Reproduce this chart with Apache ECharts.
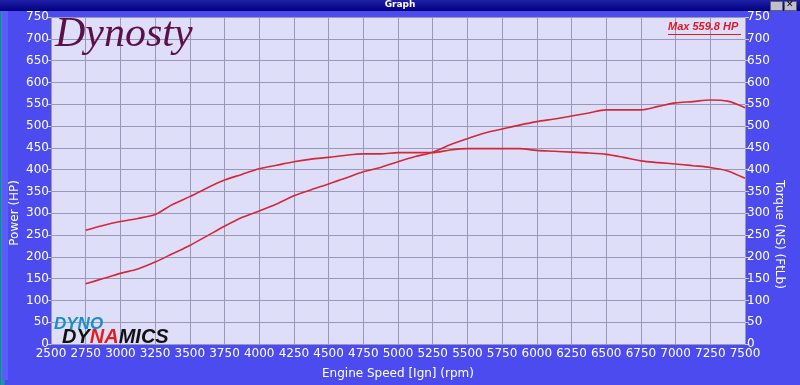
<!DOCTYPE html>
<html><head><meta charset="utf-8">
<script src="https://cdn.jsdelivr.net/npm/echarts@6/dist/echarts.min.js"></script>
<style>html,body{margin:0;padding:0;background:#1a9a9a;}#c{width:800px;height:385px;}</style>
</head><body><div id="c"></div>
<script>
const rpm = [2750,2875,3000,3125,3250,3375,3500,3625,3750,3875,4000,4125,4250,4375,4500,4625,4750,4875,5000,5125,5250,5375,5500,5625,5750,5875,6000,6125,6250,6375,6500,6625,6750,6875,7000,7125,7250,7375,7500];
const torque = [261,272,281,288,297,320,338,358,376,389,402,410,418,424,428,433,436,436,439,439,439,445,448,448,448,448,444,442,440,438,435,428,420,416,413,409,405,397,380];
const power = [138,150,162,172,188,207,226,248,270,290,305,321,340,354,367,381,395,405,418,430,440,457,471,484,493,502,510,516,523,530,537,537,537,545,553,556,559.8,557,542];
const xTicks = {min:2500, max:7500, interval:250};
const yTicks = {min:0, max:750, interval:50};
const titleText = 'Graph';
const maxLabel = 'Max 559.8 HP';
const xName = 'Engine Speed [Ign] (rpm)';
const yLeftName = 'Power (HP)';
const yRightName = 'Torque (NS) (FtLb)';

const chart = echarts.init(document.getElementById('c'), null, {renderer:'canvas'});
const lbl = {color:'#ffffff', fontFamily:'DejaVu Sans', fontSize:12, formatter:(v)=>String(v)};
const yAxisBase = (pos) => ({
  type:'value', position:pos, min:yTicks.min, max:yTicks.max, interval:yTicks.interval,
  axisLine:{show:false},
  axisTick:{show:true, length:4, lineStyle:{color:'#c8c8e8'}},
  axisLabel:Object.assign({margin:2}, lbl),
  splitLine:{show:pos==='left', lineStyle:{color:'#9a98b8', width:1}}
});
const pairs = (ys) => rpm.map((r,i)=>[r, ys[i]]);
chart.setOption({
  backgroundColor:'#4b4bf0',
  animation:false,
  grid:{left:51, right:55, top:17, bottom:37, show:true, backgroundColor:'#dedef8', borderWidth:0},
  xAxis:{type:'value', min:xTicks.min, max:xTicks.max, interval:xTicks.interval,
    axisLine:{show:false}, axisTick:{show:false},
    axisLabel:Object.assign({margin:4}, lbl),
    splitLine:{show:true, lineStyle:{color:'#9a98b8', width:1}},
    name:xName, nameLocation:'middle', nameGap:24,
    nameTextStyle:{color:'#ffffff', fontFamily:'DejaVu Sans', fontSize:12}},
  yAxis:[yAxisBase('left'), yAxisBase('right')],
  series:[
    {type:'line', data:pairs(torque), yAxisIndex:1, smooth:0.3, symbol:'none', lineStyle:{color:'#d42838', width:1.6}},
    {type:'line', data:pairs(power), yAxisIndex:0, smooth:0.3, symbol:'none', lineStyle:{color:'#d42838', width:1.6}}
  ],
  graphic:[
    {type:'rect', left:0, top:0, shape:{width:800, height:385}, style:{fill:'none', stroke:'#1a9a9a', lineWidth:4}, z:0, silent:true},
    {type:'rect', left:2, top:2, shape:{width:6, height:378}, style:{fill:'#5c5cfa'}, z:0},
    {type:'rect', left:0, top:0, shape:{width:800, height:11}, style:{fill:new echarts.graphic.LinearGradient(0,0,0,1,[{offset:0,color:'#2020a8'},{offset:1,color:'#000080'}])}, z:10},
    {type:'text', left:'center', top:0, style:{text:titleText, fill:'#ffffff', font:'bold 9px "DejaVu Sans"'}, z:11},
    {type:'rect', left:770, top:1, shape:{width:12, height:9}, style:{fill:'#c0c0c8', stroke:'#606070'}, z:11},
    {type:'rect', left:784, top:1, shape:{width:12, height:9}, style:{fill:'#c0c0c8', stroke:'#606070'}, z:11},
    {type:'text', left:786, top:0, style:{text:'✕', fill:'#000000', font:'bold 9px "DejaVu Sans"'}, z:12},
    {type:'text', left:55, top:14, style:{text:'Dynosty', fill:'#5a1048', font:'italic 42px "Liberation Serif"'}, z:5},
    {type:'text', left:668, top:21, style:{text:maxLabel, fill:'#e01828', font:'italic bold 11px "Liberation Sans"'}, z:5},
    {type:'rect', left:668, top:34, shape:{width:73, height:1}, style:{fill:'#e01828'}, z:5},
    {type:'text', left:54, top:316, style:{text:'DYNO', fill:'#1a8ec8', font:'italic bold 17px "Liberation Sans"'}, z:5},
    {type:'text', left:62, top:327, style:{rich:{a:{fill:'#111111', font:'italic bold 20px "Liberation Sans"'}, b:{fill:'#e02020', font:'italic bold 20px "Liberation Sans"'}}, text:'{a|DY}{b|NA}{a|MICS}'}, z:5},
    {type:'text', left:9, top:180, rotation:Math.PI/2, style:{text:yLeftName, fill:'#ffffff', font:'12px "DejaVu Sans"', align:'center', verticalAlign:'top'}, z:5},
    {type:'text', left:773, top:180, rotation:-Math.PI/2, style:{text:yRightName, fill:'#ffffff', font:'12px "DejaVu Sans"', align:'center', verticalAlign:'middle'}, z:5}
  ]
});
</script></body></html>
